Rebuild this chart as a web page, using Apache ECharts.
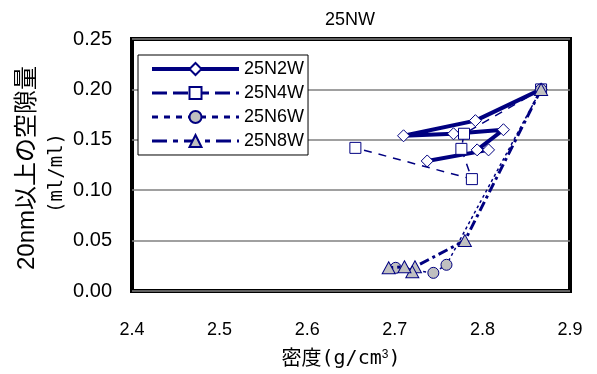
<!DOCTYPE html>
<html>
<head>
<meta charset="utf-8">
<script src="https://cdn.jsdelivr.net/npm/echarts@6/dist/echarts.min.js"></script>
<style>
  html, body { margin: 0; padding: 0; background: #fff; }
  #chart { width: 597px; height: 374px; }
</style>
</head>
<body>
<div id="chart"></div>
<script>
// Axis ranges (density g/cm3 on x, pore volume ml/ml on y)
const xRange = [2.4, 2.9, 0.1];
const yRange = [0, 0.25, 0.05];

// Series names
const seriesNames = ['25N2W', '25N4W', '25N6W', '25N8W'];

// [density, pore volume] pairs, in measurement order
const data2W = [[2.867, 0.200], [2.792, 0.169], [2.710, 0.154], [2.767, 0.156], [2.824, 0.160], [2.794, 0.140], [2.807, 0.140], [2.737, 0.129]];
const data4W = [[2.867, 0.200], [2.779, 0.156], [2.776, 0.141], [2.788, 0.111], [2.655, 0.142]];
const data6W = [[2.867, 0.200], [2.759, 0.026], [2.744, 0.018], [2.701, 0.023]];
const data8W = [[2.867, 0.200], [2.780, 0.050], [2.723, 0.024], [2.720, 0.019], [2.711, 0.024], [2.693, 0.023]];

const NAVY = '#000080';
const GREY = '#c0c0c0';
const FONT = "'Liberation Sans', 'Noto Sans CJK JP', sans-serif";
const MONO = "'DejaVu Sans Mono', 'Noto Sans CJK JP', monospace";

const chart = echarts.init(document.getElementById('chart'), null, { renderer: 'canvas' });

chart.setOption({
  animation: false,
  backgroundColor: '#fff',
  textStyle: { fontFamily: FONT, color: '#000' },
  graphic: [
    {
      type: 'text', x: 350, y: 20, z: 10,
      style: { text: '25NW', align: 'center', verticalAlign: 'middle', fill: '#000',
               font: "18px " + FONT }
    },
    {
      type: 'text', x: 27, y: 168, rotation: Math.PI / 2, z: 10,
      style: { text: '20nm以上の空隙量', align: 'center', verticalAlign: 'middle', fill: '#000',
               font: "24px " + FONT }
    },
    {
      type: 'text', x: 57, y: 173, rotation: Math.PI / 2, z: 10,
      style: { text: '(ml/ml)', align: 'center', verticalAlign: 'middle', fill: '#000',
               font: "19px " + MONO }
    }
  ],
  grid: {
    left: 132, top: 39, right: 27, bottom: 75.5,
    show: true, borderColor: '#000', borderWidth: 4, backgroundColor: 'transparent'
  },
  legend: {
    orient: 'vertical',
    left: 138, top: 55,
    padding: [5, 4, 5, 12],
    itemWidth: 87,
    itemHeight: 15,
    itemGap: 6,
    backgroundColor: '#fff',
    borderColor: '#000',
    borderWidth: 1,
    borderRadius: 0,
    textStyle: { fontFamily: FONT, fontSize: 18, color: '#000' },
    data: [
      { name: seriesNames[0], lineStyle: { width: 4 } },
      { name: seriesNames[1], lineStyle: { width: 3, type: [15, 6] } },
      { name: seriesNames[2], lineStyle: { width: 3, type: [6, 6] } },
      { name: seriesNames[3], lineStyle: { width: 3, type: [15, 6, 5, 6] } }
    ]
  },
  xAxis: {
    type: 'value',
    min: xRange[0], max: xRange[1], interval: xRange[2],
    axisLine: { show: false },
    axisTick: { show: false },
    splitLine: { show: false },
    axisLabel: {
      margin: 30, fontSize: 18, color: '#000', fontFamily: FONT,
      formatter: v => v.toFixed(1)
    },
    name: '{c|密度}{m|(g/cm}{sup|3}{m|)}',
    nameLocation: 'middle',
    nameGap: 58,
    nameTextStyle: {
      color: '#000', padding: [0, 20, 0, 0],
      rich: {
        c: { fontFamily: FONT, fontSize: 20, color: '#000' },
        m: { fontFamily: MONO, fontSize: 20, color: '#000' },
        sup: { fontFamily: FONT, fontSize: 12, color: '#000', verticalAlign: 'top', padding: [0, 0, 8, 0] }
      }
    }
  },
  yAxis: {
    type: 'value',
    min: yRange[0], max: yRange[1], interval: yRange[2],
    axisLine: { show: false },
    axisTick: { show: false },
    splitLine: { show: true, lineStyle: { color: '#808080', width: 1.5 } },
    axisLabel: {
      margin: 20, fontSize: 20, color: '#000', fontFamily: FONT,
      formatter: v => v.toFixed(2)
    }
  },
  series: [
    {
      name: seriesNames[0], type: 'line', data: data2W, z: 2,
      symbol: 'diamond', symbolSize: 12,
      lineStyle: { color: NAVY, width: 4, type: 'solid' },
      itemStyle: { color: '#fff', borderColor: NAVY, borderWidth: 1 }
    },
    {
      name: seriesNames[1], type: 'line', data: data4W, z: 3,
      symbol: 'rect', symbolSize: 11,
      lineStyle: { color: NAVY, width: 1.5, type: [8, 7] },
      itemStyle: { color: '#fff', borderColor: NAVY, borderWidth: 1 }
    },
    {
      name: seriesNames[2], type: 'line', data: data6W, z: 4,
      symbol: 'circle', symbolSize: 11,
      lineStyle: { color: NAVY, width: 1.5, type: [3, 3] },
      itemStyle: { color: GREY, borderColor: NAVY, borderWidth: 1 }
    },
    {
      name: seriesNames[3], type: 'line', data: data8W, z: 5,
      symbol: 'triangle', symbolSize: [13, 12],
      lineStyle: { color: NAVY, width: 3, type: [10, 4, 3, 4] },
      itemStyle: { color: GREY, borderColor: NAVY, borderWidth: 1 }
    }
  ]
});
</script>
</body>
</html>
